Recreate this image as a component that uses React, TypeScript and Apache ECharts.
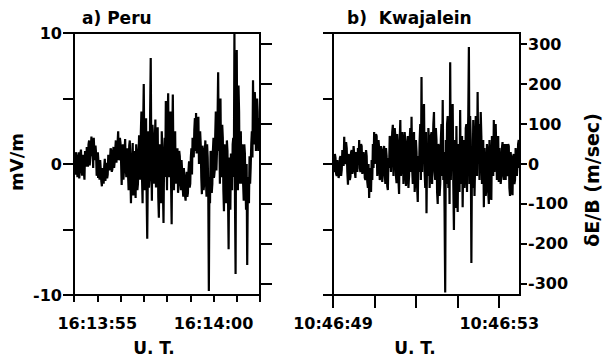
import React, { useEffect, useRef } from "react";
import * as echarts from "echarts";

// Peru: seconds after 16:13:00, field in mV/m
const peruStart = 54;
const peruEnd = 62;
const peruValues = [
  0.2, -0.6, -0.8, 0.9, 0.6, -0.4, -1.0, 0.3, 0.9, -1.1, -0.5, 0.8, 1.1, -0.3, -0.9, 0.5, 0.7, -0.6, -1.2, 1.0, 0.4, -0.2,
  1.3, 0.4, -0.2, 1.5, 1.8, -0.1, 0.5, 1.2, 2.1, 0.6,
  1.2, -0.3, 2.0, 0.9, 0.3, 1.4,
  0.8, -0.9, -0.6, 0.9, 0.2, -0.7, -1.2, 0.3, -0.4, -1.3, -1.7, -0.3,
  -0.9, -1.5, -0.2, 0.4, -1.3, -0.4, 0.1, -1.1, -0.8, 0.7, 0.5, -0.5,
  0.3, 1.2, 1.0, -0.6, -0.4, 0.8, 1.3, -0.3, 0.2, 1.1, 1.8, 0.1,
  0.9, 1.6, 2.5, 0.3, 0.4, 2.0, 1.6, 0.2,
  -1.6, 0.6, 1.5, -1.2, -0.5, 1.0, 1.9, -0.2, -1.0, 0.7,
  1.2, -0.8, -2.0, 1.4, 1.8, -0.9, -3.0, -0.5, 0.6, 1.6,
  -2.4, 0.3, 1.0, -1.4, -2.6, 1.5, 0.8, -2.0, -1.5, 0.5,
  2.2, -0.6, -1.2, 2.4, 4.0, -1.0, -3.0, 2.8, 6.1, 0.5,
  -2.0, 1.4, 3.5, -2.5, -5.7, -0.8, 2.5, -1.8,
  -1.0, 4.0, 8.1, 0.5, -2.8, 3.0, 2.0, -0.5,
  -1.5, 1.5, 3.4, -1.8, -0.5, 2.0, 2.8, -2.5,
  -4.1, 0.4, 1.5, -1.5, -3.0, 2.5, 0.8, -2.0,
  -4.5, 0.5, 2.0, -1.0, 4.8, 1.0, -2.0, 3.0,
  5.4, -0.5, -1.0, 2.5, 4.0, -1.5, -4.6, 1.5,
  5.3, 0.5, -2.0, 1.8, 2.5, -1.5, -0.8, 0.8,
  1.2, -2.2, -1.5, 1.0, 0.6, -1.0, -2.0, 0.3, -0.5, -1.8, -2.5, -0.3,
  -1.2, -2.4, -2.8, -1.0, -0.6, -2.5, -2.2, -0.5, 0.2, -1.8,
  -1.5, 0.5, 1.2, -0.8, 2.0, 1.0, 0.5, 2.6, 3.5, 1.0,
  3.9, 0.8, 1.8, 3.0, 3.6, 0.0, 0.8, 2.5,
  1.5, -1.0, -2.3, 1.4, 1.0, -2.0, -1.5, 0.8,
  1.8, -1.2, -2.5, 1.5, 0.5, -2.0, -9.7, -1.0,
  -3.0, 1.0, 0.8, -2.2, -1.5, 1.0, 2.0, -1.0,
  -0.5, 2.2, 4.0, -0.5, 1.0, 3.5, 7.0, 1.0,
  2.5, -1.5, 5.0, 0.0, -1.0, 3.0, 2.0, -2.0,
  -3.6, 1.5, 0.5, -2.0, -3.0, 1.8, 1.0, -2.5,
  -6.5, 0.5, -1.0, -3.5, 0.8, -1.5, -2.0, 1.5,
  2.0, -1.0, 10.0, -3.0, -8.4, 5.0, 8.7, -0.5,
  -2.0, 6.0, 4.0, -1.5, 0.2, 2.5, -1.5, 1.5,
  1.2, -1.5, -2.8, 1.5, 0.8, -1.5, -3.5, 0.0,
  -7.7, -2.0, -1.0, -3.0, 0.6, -1.5, -0.2, 1.5,
  2.5, 0.5, 6.4, 2.0, 1.5, 5.5, 4.5, 1.0,
  2.5, 5.0, 4.0, 1.0, 1.5, 3.5, 3.0,
];

// Kwajalein: seconds after 10:46:00, drift dE/B in m/sec
const kwajStart = 49;
const kwajEnd = 53.5;
const kwajValues = [
  5, -15, -20, 25, 15, -25, -30, 10, 10, -35, -25, 15, 20, -30, -15, 35, 30, -5,
  68, 0, 10, 55, 40, -20, -52, 25,
  20, -40, -32, 30, 35, -25, -10, 45,
  25, -20, -35, 30, 10, -20, 40, 0,
  60, -10, -20, 50, 45, -25, -10, 30,
  15, -35, -40, 35, 20, -45, -60, 0,
  -85, -10, -30, -70, 10, -40, 50, -10,
  80, 0, 20, 75, 70, -30, -10, 60,
  40, -40, -30, 45, 30, -45, -20, 35,
  45, -25, -50, 40, 20, -55, -65, 15,
  -10, 70, 60, -20, 30, 80, 98, -30,
  20, 90, 70, -30, -48, 75, 40, -40,
  -75, 60, 110, -30, 0, 80, 60, -50,
  -20, 80, 55, -55, -40, 45, 70, -60,
  -30, 60, 90, -20, 118, -10, -50, 60,
  80, -70, -40, 60, 30, -60, -95, 20,
  -20, 60, 100, -40, 218, -20, 50, 120,
  150, -20, -60, 80, -123, 40, -30, 90,
  60, -60, -20, 70, 80, -50, 30, 100,
  130, -20, -40, 90, 60, -70, -100, 50,
  40, -80, -50, 60, 100, -30, 160, -40,
  30, -120, -322, 60, -50, 100, 120, -60,
  60, -100, 255, -40, 40, 120, 150, -50,
  -165, 60, 20, -110, 95, -60, -120, 50,
  30, -70, 135, -50, -20, 70, -108, 20,
  60, -60, -30, 90, 100, -70, 40, 120,
  293, -50, 120, 60, -248, 30, -60, 110,
  40, -80, 0, 120, 80, -30, 180, 20,
  100, -40, 40, 130, 70, -50, -20, 60,
  -108, 40, 0, -80, -60, 50, 30, -70,
  -100, 60, 20, -80, -90, 70, 60, -30,
  110, -20, 40, 100, 100, -40, 20, 70,
  -45, 40, 10, -50, -30, 40, 55, -20,
  -40, 50, 20, -40, 50, -30, -20, 50,
  45, -60, -80, 30, 10, -70, -78, 20,
  25, -50, -40, 40, 40, -30, 0, 50,
  60, -10, 10,
];

const fieldTicks = [-10, -5, 0, 5, 10];
const fieldLabels = [-10, 0, 10];
const driftTicks = [-300, -200, -100, 0, 100, 200, 300];
const peruSecondTicks = [54, 55, 56, 57, 58, 59, 60, 61, 62];
const peruMajorTicks = [55, 60];
const peruTickLabels: Record<number, string> = { 55: "16:13:55", 60: "16:14:00" };
const kwajSecondTicks = [49, 50, 51, 52, 53];
const kwajLabelTicks = [49, 53];
const kwajTickLabels: Record<number, string> = { 49: "10:46:49", 53: "10:46:53" };

const fieldRange = 10;
const driftRange = 328;

const FONT = "DejaVu Sans";

function toPairs(start: number, end: number, values: number[]) {
  const step = (end - start) / (values.length - 1);
  return values.map((v, i) => [start + i * step, v]);
}

const axisLine = { show: true, onZero: false, lineStyle: { color: "#000", width: 2 } };
const labelStyle = { color: "#000", fontFamily: FONT, fontWeight: "bold" as const, fontSize: 16 };
const tickLine = { color: "#000", width: 2 };

export default function App() {
  const ref = useRef<HTMLDivElement>(null);
  useEffect(() => {
    if (!ref.current) return;
    const chart = echarts.init(ref.current, null, { renderer: "svg" });
    chart.setOption({
      animation: false,
      backgroundColor: "#fff",
      grid: [
        { left: 74, top: 33, width: 186, height: 262, show: true, borderColor: "#000", borderWidth: 2, backgroundColor: "transparent" },
        { left: 333, top: 33, width: 187, height: 262, show: true, borderColor: "#000", borderWidth: 2, backgroundColor: "transparent" },
      ],
      xAxis: [
        {
          type: "value", gridIndex: 0, position: "bottom", min: peruStart, max: peruEnd,
          axisLine, splitLine: { show: false },
          axisTick: { show: true, length: 7, customValues: peruSecondTicks, lineStyle: tickLine },
          axisLabel: { ...labelStyle, margin: 20, customValues: peruMajorTicks, formatter: (v: number) => peruTickLabels[Math.round(v)] || "" },
        },
        {
          type: "value", gridIndex: 0, position: "bottom", min: peruStart, max: peruEnd,
          axisLine: { show: false }, splitLine: { show: false },
          axisTick: { show: true, length: 14, customValues: peruMajorTicks, lineStyle: tickLine },
          axisLabel: { show: false },
        },
        {
          type: "value", gridIndex: 1, position: "bottom", min: kwajStart, max: kwajEnd,
          axisLine, splitLine: { show: false },
          axisTick: { show: true, length: 13, customValues: kwajSecondTicks, lineStyle: tickLine },
          axisLabel: { ...labelStyle, margin: 20, customValues: kwajLabelTicks, formatter: (v: number) => kwajTickLabels[Math.round(v)] || "" },
        },
      ],
      yAxis: [
        {
          type: "value", gridIndex: 0, position: "left", min: -fieldRange, max: fieldRange,
          axisLine, splitLine: { show: false },
          axisTick: { show: true, length: 11, customValues: fieldTicks, lineStyle: tickLine },
          axisLabel: { ...labelStyle, margin: 12, customValues: fieldLabels },
        },
        {
          type: "value", gridIndex: 0, position: "right", min: -driftRange, max: driftRange,
          axisLine, splitLine: { show: false },
          axisTick: { show: true, length: 12, customValues: driftTicks, lineStyle: tickLine },
          axisLabel: { show: false },
        },
        {
          type: "value", gridIndex: 1, position: "left", min: -fieldRange, max: fieldRange,
          axisLine, splitLine: { show: false },
          axisTick: { show: true, length: 10, customValues: fieldTicks, lineStyle: tickLine },
          axisLabel: { show: false },
        },
        {
          type: "value", gridIndex: 1, position: "right", min: -driftRange, max: driftRange,
          axisLine, splitLine: { show: false },
          axisTick: { show: true, length: 7, customValues: driftTicks, lineStyle: tickLine },
          axisLabel: { ...labelStyle, margin: 8, customValues: driftTicks },
        },
      ],
      series: [
        {
          type: "line", xAxisIndex: 0, yAxisIndex: 0, data: toPairs(peruStart, peruEnd, peruValues),
          showSymbol: false, symbol: "none", lineStyle: { color: "#000", width: 2.2 },
        },
        {
          type: "line", xAxisIndex: 2, yAxisIndex: 3, data: toPairs(kwajStart, kwajEnd, kwajValues),
          showSymbol: false, symbol: "none", lineStyle: { color: "#000", width: 2.2 },
        },
      ],
      graphic: [
        { type: "text", left: 82, top: 9, style: { text: "a) Peru", fill: "#000", font: `bold 17px "${FONT}"` } },
        { type: "text", left: 347, top: 9, style: { text: "b)  Kwajalein", fill: "#000", font: `bold 17px "${FONT}"` } },
        { type: "text", x: 154, y: 348, style: { text: "U. T.", fill: "#000", font: `bold 17px "${FONT}"`, align: "center", verticalAlign: "middle" } },
        { type: "text", x: 415, y: 348, style: { text: "U. T.", fill: "#000", font: `bold 17px "${FONT}"`, align: "center", verticalAlign: "middle" } },
        { type: "text", x: 16, y: 162, rotation: Math.PI / 2, style: { text: "mV/m", fill: "#000", font: `bold 18px "${FONT}"`, align: "center", verticalAlign: "middle" } },
        { type: "text", x: 592, y: 180, rotation: Math.PI / 2, style: { text: "δE/B (m/sec)", fill: "#000", font: `bold 19px "${FONT}"`, align: "center", verticalAlign: "middle" } },
      ],
    });
    return () => chart.dispose();
  }, []);
  return <div ref={ref} style={{ width: 606, height: 360, position: "absolute", left: 0, top: 0 }} />;
}
